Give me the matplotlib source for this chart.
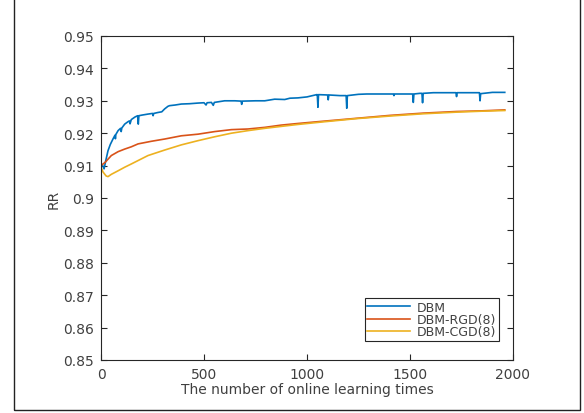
import matplotlib
matplotlib.use('Agg')
import matplotlib.pyplot as plt
from matplotlib.patches import Rectangle

# values (x = online learning step, y = RR)
dbm_x = [0, 8, 15, 22, 34, 45, 58, 68, 70, 72, 83, 95, 98, 101, 115, 130, 138, 141,
         147, 165, 178, 181, 184, 200, 228, 250, 253, 256, 277, 295, 309, 325, 333,
         360, 390, 430, 471, 500, 510, 515, 536, 545, 550, 570, 600, 650, 680, 683,
         686, 750, 795, 843, 892, 917, 956, 1000, 1047, 1050, 1053, 1056, 1100, 1103,
         1106, 1160, 1190, 1193, 1196, 1250, 1290, 1350, 1419, 1422, 1425, 1500,
         1513, 1516, 1519, 1548, 1558, 1561, 1564, 1613, 1700, 1723, 1726, 1729,
         1800, 1837, 1840, 1843, 1900, 1960]
dbm_y = [0.9105, 0.9100, 0.9090, 0.9112, 0.9146, 0.9165, 0.9182, 0.9194, 0.9183,
         0.9196, 0.9208, 0.9215, 0.9205, 0.9216, 0.9228, 0.9235, 0.9238, 0.9229,
         0.9242, 0.9250, 0.9254, 0.9228, 0.9254, 0.9256, 0.9259, 0.9261, 0.9254,
         0.9261, 0.9264, 0.9266, 0.9275, 0.9283, 0.9285, 0.9287, 0.9290, 0.9291,
         0.9293, 0.9294, 0.9287, 0.9294, 0.9295, 0.9286, 0.9295, 0.9297, 0.9300,
         0.9300, 0.9299, 0.9289, 0.9299, 0.9300, 0.9300, 0.9305, 0.9304, 0.9308,
         0.9309, 0.9312, 0.9319, 0.9319, 0.9280, 0.9319, 0.9318, 0.9303, 0.9318,
         0.9316, 0.9316, 0.9277, 0.9316, 0.9320, 0.9321, 0.9321, 0.9321, 0.9316,
         0.9321, 0.9321, 0.9321, 0.9295, 0.9321, 0.9323, 0.9323, 0.9294, 0.9323,
         0.9325, 0.9325, 0.9325, 0.9313, 0.9325, 0.9325, 0.9325, 0.9300, 0.9322,
         0.9326, 0.9326]

rgd_x = [0, 20, 50, 83, 115, 147, 180, 244, 309, 390, 471, 552, 633, 714, 795,
         875, 956, 1079, 1241, 1403, 1565, 1726, 1850, 1960]
rgd_y = [0.9100, 0.9110, 0.9131, 0.9143, 0.9151, 0.9158, 0.9167, 0.9175, 0.9182,
         0.9192, 0.9197, 0.9205, 0.9211, 0.9213, 0.9218, 0.9225, 0.9230, 0.9237,
         0.9246, 0.9255, 0.9262, 0.9267, 0.9269, 0.9272]

cgd_x = [0, 10, 25, 34, 50, 83, 115, 147, 228, 309, 390, 471, 552, 633, 714, 795,
         875, 956, 1079, 1241, 1403, 1565, 1726, 1850, 1960]
cgd_y = [0.9095, 0.9080, 0.9068, 0.9066, 0.9073, 0.9084, 0.9095, 0.9105, 0.9131,
         0.9148, 0.9164, 0.9177, 0.9189, 0.9200, 0.9208, 0.9215, 0.9221, 0.9227,
         0.9235, 0.9245, 0.9253, 0.9260, 0.9265, 0.9268, 0.9270]

series_names = ['DBM', 'DBM-RGD(8)', 'DBM-CGD(8)']
x_ticks = [0, 500, 1000, 1500, 2000]
y_ticks = [0.85, 0.86, 0.87, 0.88, 0.89, 0.9, 0.91, 0.92, 0.93, 0.94, 0.95]
y_tick_labels = ['0.85', '0.86', '0.87', '0.88', '0.89', '0.9', '0.91', '0.92',
                 '0.93', '0.94', '0.95']

text_col = '#404040'
plt.rcParams['font.family'] = ['DejaVu Sans']

fig = plt.figure(figsize=(5.84, 4.14), dpi=100)
ax = fig.add_axes([101 / 584, 53 / 414, 412 / 584, 324 / 414])

ax.plot(dbm_x, dbm_y, color='#0072BD', lw=1.2, label=series_names[0])
ax.plot(rgd_x, rgd_y, color='#D95319', lw=1.2, label=series_names[1])
ax.plot(cgd_x, cgd_y, color='#EDB120', lw=1.2, label=series_names[2])

ax.set_xlim(0, 2000)
ax.set_ylim(0.85, 0.95)
ax.set_xticks(x_ticks)
ax.set_xticklabels([str(t) for t in x_ticks])
ax.set_yticks(y_ticks)
ax.set_yticklabels(y_tick_labels)
ax.tick_params(direction='in', length=4, width=0.8, top=True, right=True,
               colors='#262626', labelcolor=text_col, labelsize=10, pad=5)
for sp in ax.spines.values():
    sp.set_color('#262626')
    sp.set_linewidth(0.8)

ax.set_xlabel('The number of online learning times', fontsize=10, color=text_col, labelpad=1)
ax.set_ylabel('RR', fontsize=10, color=text_col, labelpad=2)

leg = ax.legend(loc='lower right', bbox_to_anchor=(0.966, 0.059), borderaxespad=0,
                fontsize=9, handlelength=3.4, handletextpad=0.6, labelspacing=-0.05,
                borderpad=0.2, fancybox=False, framealpha=1)
leg.get_frame().set_edgecolor('#262626')
leg.get_frame().set_linewidth(0.8)
for t in leg.get_texts():
    t.set_color(text_col)

# outer frame around the figure (top edge is outside the picture)
fig.patches.append(Rectangle((14 / 584, 3 / 414), 566 / 584, 1.2, transform=fig.transFigure,
                             fill=False, edgecolor='#222222', lw=1.0))

plt.savefig('out.png', dpi=100)
